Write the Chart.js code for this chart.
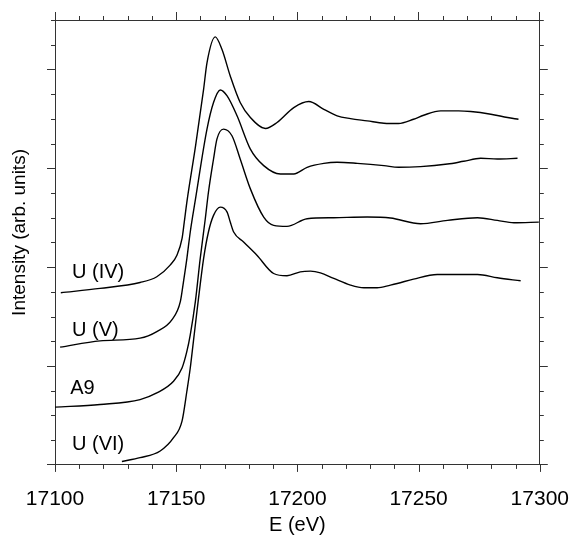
<!DOCTYPE html>
<html>
<head>
<meta charset="utf-8">
<script src="https://cdn.jsdelivr.net/npm/chart.js@4/dist/chart.umd.min.js"></script>
<style>
body{margin:0;background:#fff}
</style>
</head>
<body>
<canvas id="xanesChart" width="574" height="540"></canvas>
<script>
// U L3-edge spectra (stacked, arb. units)
const energyIV = [17102.4,17118.6,17135.1,17142.0,17147.5,17150.3,17152.4,17153.3,17154.4,17158.0,17161.3,17162.7,17166.1,17168.9,17172.3,17176.4,17180.6,17186.8,17191.6,17198.5,17204.7,17210.9,17216.4,17221.9,17228.8,17235.7,17241.7,17247.9,17252.1,17259.1,17266.5,17271.5,17279.8,17286.7,17291.2]
const intensityIV = [1.742,1.785,1.845,1.903,2.021,2.121,2.288,2.450,2.658,3.229,3.799,4.067,4.329,4.201,3.933,3.665,3.514,3.403,3.463,3.614,3.675,3.597,3.531,3.503,3.480,3.456,3.453,3.496,3.537,3.581,3.581,3.574,3.547,3.514,3.496]

const energyV = [17102.1,17118.6,17135.1,17142.0,17148.2,17151.7,17153.0,17154.4,17155.8,17157.9,17162.7,17165.4,17168.2,17171.0,17175.1,17180.6,17186.1,17193.0,17198.5,17204.0,17210.9,17216.4,17224.7,17235.7,17241.7,17250.8,17261.9,17268.6,17275.6,17282.5,17290.8]
const intensityV = [1.191,1.255,1.282,1.349,1.467,1.651,1.852,2.087,2.356,2.680,3.396,3.665,3.792,3.732,3.531,3.194,3.027,2.943,2.943,3.010,3.050,3.061,3.050,3.027,3.010,3.017,3.043,3.071,3.101,3.094,3.101]

const energyA9 = [17100.0,17118.6,17135.1,17142.0,17148.9,17152.4,17154.4,17155.8,17157.9,17159.9,17162.0,17163.3,17165.4,17166.8,17169.5,17173.0,17176.4,17180.6,17186.1,17190.2,17195.7,17204.0,17215.0,17228.8,17238.4,17250.8,17261.9,17274.3,17282.5,17289.3,17299.6]
const intensityA9 = [0.584,0.611,0.661,0.728,0.846,0.980,1.148,1.316,1.651,2.087,2.490,2.758,3.094,3.295,3.396,3.329,3.094,2.792,2.507,2.423,2.413,2.490,2.500,2.507,2.497,2.439,2.473,2.500,2.473,2.449,2.456]

const energyVI = [17127.6,17135.1,17143.4,17148.9,17152.4,17154.4,17155.8,17157.1,17159.2,17161.3,17163.3,17165.4,17168.2,17171.0,17172.3,17173.7,17177.8,17183.3,17190.2,17195.7,17201.2,17205.4,17209.5,17215.0,17221.9,17227.4,17232.9,17238.4,17241.2,17247.9,17257.7,17274.3,17282.5,17292.1]
const intensityVI = [0.035,0.073,0.141,0.275,0.443,0.745,0.980,1.250,1.684,2.087,2.356,2.524,2.607,2.557,2.456,2.356,2.255,2.121,1.936,1.913,1.953,1.960,1.943,1.886,1.819,1.792,1.792,1.819,1.835,1.879,1.926,1.926,1.893,1.862]

const seriesNames = ["U (IV)","U (V)","A9","U (VI)"]
const xTickValues = [17100,17150,17200,17250,17300]
const yTitle = "Intensity (arb. units)"

Chart.defaults.font.family = "'Liberation Sans', Arial, Helvetica, sans-serif"
Chart.defaults.color = "#000"

function toPoints(xs, ys){
return xs.map((x,i)=>({x:x,y:ys[i]}))
}

const curves = [
[energyIV,intensityIV],
[energyV,intensityV],
[energyA9,intensityA9],
[energyVI,intensityVI]
]

const datasets = curves.map((c,i)=>({
label:seriesNames[i],
data:toPoints(c[0],c[1]),
borderColor:"#000",
borderWidth:1.4,
pointRadius:0,
fill:false,
cubicInterpolationMode:"monotone"
}))

// bottom tick marks, minor ticks on all sides, y title and the curve labels
const extrasPlugin = {
id:"extras",
afterDraw(chart){
const ctx = chart.ctx
const xs = chart.scales.x
const ys = chart.scales.y
const area = chart.chartArea
ctx.save()
ctx.strokeStyle = "#333"
ctx.lineWidth = 1
ctx.beginPath()
for(let e=17100;e<=17300;e+=10){
const px = Math.round(xs.getPixelForValue(e))+0.5
const major = e%50===0
ctx.moveTo(px,area.bottom); ctx.lineTo(px,area.bottom+(major?7:4))
if(!major){
ctx.moveTo(px,area.top); ctx.lineTo(px,area.top-4)
}
}
for(let k=1;k<=18;k++){
if(k%4===0) continue
const py = Math.round(ys.getPixelForValue(k*0.25))+0.5
ctx.moveTo(area.left,py); ctx.lineTo(area.left-4,py)
ctx.moveTo(area.right,py); ctx.lineTo(area.right+4,py)
}
ctx.stroke()

ctx.fillStyle = "#000"
ctx.font = "20px 'Liberation Sans', Arial, sans-serif"
ctx.textBaseline = "middle"
ctx.textAlign = "left"
const labelSpots = [[17107,1.95],[17107,1.36],[17106.3,0.77],[17107,0.21]]
seriesNames.forEach((name,i)=>{
ctx.fillText(name, xs.getPixelForValue(labelSpots[i][0]), ys.getPixelForValue(labelSpots[i][1]))
})

// y title sits a little above the middle of the axis, as in the figure
ctx.translate(area.left-35,(area.top+area.bottom)/2-10)
ctx.rotate(-Math.PI/2)
ctx.textAlign = "center"
ctx.font = "19px 'Liberation Sans', Arial, sans-serif"
ctx.fillText(yTitle,0,0)
ctx.restore()
}
}

const axisLine = {display:true,color:"#333",width:1}
const tickGrid = {drawOnChartArea:false,color:"#333",tickLength:8}

new Chart(document.getElementById("xanesChart").getContext("2d"),{
type:"line",
data:{datasets:datasets},
options:{
responsive:false,
animation:false,
layout:{padding:{left:47,right:26,top:12,bottom:0}},
plugins:{legend:{display:false},tooltip:{enabled:false}},
scales:{
x:{
type:"linear",position:"bottom",min:17100,max:17300,
afterBuildTicks(axis){axis.ticks = xTickValues.map(v=>({value:v}))},
ticks:{font:{size:21,lineHeight:1.29},color:"#000",padding:5,maxRotation:0,callback:v=>String(v)},
grid:{drawOnChartArea:false,color:"#333",tickColor:"rgba(0,0,0,0)",tickLength:16},
border:axisLine,
title:{display:true,text:"E (eV)",font:{size:20,lineHeight:0.7},color:"#000",padding:{top:0,bottom:8}}
},
x2:{
type:"linear",position:"top",min:17100,max:17300,
afterBuildTicks(axis){axis.ticks = xTickValues.map(v=>({value:v}))},
ticks:{display:false},
grid:tickGrid,
border:axisLine
},
y:{
type:"linear",position:"left",min:0,max:4.5,
ticks:{display:false,stepSize:1,includeBounds:false},
grid:tickGrid,
border:axisLine
},
y2:{
type:"linear",position:"right",min:0,max:4.5,
ticks:{display:false,stepSize:1,includeBounds:false},
grid:tickGrid,
border:axisLine
}
}
},
plugins:[extrasPlugin]
})
</script>
</body>
</html>
